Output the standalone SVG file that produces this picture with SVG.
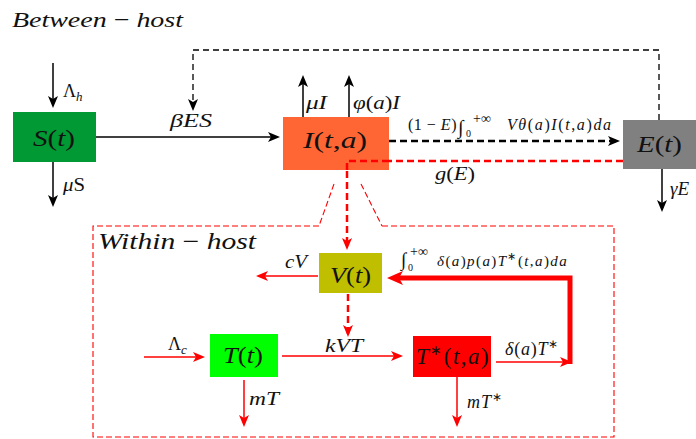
<svg xmlns="http://www.w3.org/2000/svg" width="696" height="439" viewBox="0 0 696 439">
<defs>
<style>
.m{font-family:"Liberation Serif","Times New Roman",serif;font-style:italic;fill:#111}
.u{font-style:normal}
.n{font-size:23px}
.e{font-size:18px}
.k{fill:none;stroke:#000;stroke-width:1.5}
.r{fill:none;stroke:#ff0000;stroke-width:1.5}
.kd{fill:none;stroke:#000;stroke-width:2.5;stroke-dasharray:7 4}
.rd{fill:none;stroke:#ff0000;stroke-width:2.5;stroke-dasharray:7 4}
</style>
<marker id="ak" viewBox="0 0 12 10" refX="9" refY="5" markerWidth="12" markerHeight="10" markerUnits="userSpaceOnUse" orient="auto"><path d="M0,0 L12,5 L0,10 L3,5 Z" fill="#000"/></marker>
<marker id="ar" viewBox="0 0 12 10" refX="9" refY="5" markerWidth="12" markerHeight="10" markerUnits="userSpaceOnUse" orient="auto"><path d="M0,0 L12,5 L0,10 L3,5 Z" fill="#ff0000"/></marker>
<marker id="arb" viewBox="0 0 16 14" refX="8" refY="7" markerWidth="16" markerHeight="14" markerUnits="userSpaceOnUse" orient="auto"><path d="M0,0 L16,7 L0,14 L4,7 Z" fill="#ff0000"/></marker>
</defs>
<rect width="696" height="439" fill="#fff"/>

<text class="m" style="font-size:22px" x="12" y="27" textLength="171" lengthAdjust="spacingAndGlyphs">Between <tspan class="u">−</tspan> host</text>

<g id="within-host">
<path d="M319,226 H93 V437 H614 V226 H382 M334,184 L319,226 M361,184 L382,226" fill="none" stroke="#ff0000" stroke-width="1.1" stroke-dasharray="6 3"/>
<text class="m" style="font-size:23px" x="98" y="249" textLength="158" lengthAdjust="spacingAndGlyphs">Within <tspan class="u">−</tspan> host</text>
</g>

<g id="connectors">
<line class="k" x1="53" y1="63" x2="53" y2="105" marker-end="url(#ak)"/>
<line class="k" x1="53" y1="162" x2="53" y2="204" marker-end="url(#ak)"/>
<line class="k" x1="96" y1="137" x2="277" y2="137" marker-end="url(#ak)"/>
<line class="k" x1="303" y1="117" x2="303" y2="78" marker-end="url(#ak)"/>
<line class="k" x1="349" y1="117" x2="349" y2="78" marker-end="url(#ak)"/>
<line class="k" x1="662" y1="169" x2="662" y2="209" marker-end="url(#ak)"/>
<path d="M659,120 V50 H193 V108" fill="none" stroke="#000" stroke-width="1.3" stroke-dasharray="6 4" marker-end="url(#ak)"/>
<line class="kd" x1="389" y1="141" x2="617" y2="141" marker-end="url(#ak)"/>
<path class="rd" d="M623,161 H347 V247" marker-end="url(#ar)"/>
<line class="rd" x1="348" y1="294" x2="348" y2="334" marker-end="url(#ar)"/>
<line class="r" x1="318" y1="276" x2="259" y2="276" marker-end="url(#ar)"/>
<line class="r" x1="144" y1="357" x2="202" y2="357" marker-end="url(#ar)"/>
<line class="r" x1="282" y1="356" x2="400" y2="356" marker-end="url(#ar)"/>
<line class="r" x1="244" y1="380" x2="244" y2="424" marker-end="url(#ar)"/>
<line class="r" x1="457" y1="377" x2="457" y2="424" marker-end="url(#ar)"/>
<line class="r" x1="496" y1="362" x2="569" y2="362" marker-end="url(#ar)"/>
<path d="M570,364 V278 H395" fill="none" stroke="#ff0000" stroke-width="5" marker-end="url(#arb)"/>

<text class="m e" x="63" y="97"><tspan class="u">Λ</tspan><tspan style="font-size:13px" dy="4">h</tspan></text>
<text class="m e" x="63" y="191" textLength="22" lengthAdjust="spacingAndGlyphs">μ<tspan class="u">S</tspan></text>
<text class="m e" x="170" y="127" textLength="42" lengthAdjust="spacingAndGlyphs">βES</text>
<text class="m e" x="306" y="109" textLength="21" lengthAdjust="spacingAndGlyphs">μI</text>
<text class="m e" x="353" y="109" textLength="47" lengthAdjust="spacingAndGlyphs">φ<tspan class="u">(</tspan>a<tspan class="u">)</tspan>I</text>
<text class="m" style="font-size:16px"><tspan x="408" y="130" style="letter-spacing:0.5px"><tspan class="u">(1 − </tspan>E<tspan class="u">)</tspan></tspan><tspan class="u" x="458" y="134" style="font-size:20px">∫</tspan><tspan class="u" x="466" y="137" style="font-size:10px">0</tspan><tspan class="u" x="473" y="123" style="font-size:14px">+∞</tspan><tspan x="507" y="130" style="letter-spacing:1.6px">Vθ<tspan class="u">(</tspan>a<tspan class="u">)</tspan>I<tspan class="u">(</tspan>t<tspan class="u">,</tspan>a<tspan class="u">)</tspan>da</tspan></text>
<text class="m e" x="435" y="180" textLength="40" lengthAdjust="spacingAndGlyphs">g<tspan class="u">(</tspan>E<tspan class="u">)</tspan></text>
<text class="m" style="font-size:19px" x="670" y="195">γE</text>
<text class="m e" x="285" y="268" textLength="22" lengthAdjust="spacingAndGlyphs">cV</text>
<text class="m" style="font-size:15px"><tspan class="u" x="401" y="266" style="font-size:19px">∫</tspan><tspan class="u" x="408" y="271" style="font-size:10px">0</tspan><tspan class="u" x="410" y="256" style="font-size:14px">+∞</tspan><tspan x="437" y="266" style="letter-spacing:1.4px">δ<tspan class="u">(</tspan>a<tspan class="u">)</tspan>p<tspan class="u">(</tspan>a<tspan class="u">)</tspan>T<tspan class="u" dy="-6" style="font-size:11px">∗</tspan><tspan class="u" dy="6">(</tspan>t<tspan class="u">,</tspan>a<tspan class="u">)</tspan>da</tspan></text>
<text class="m e" x="168" y="350"><tspan class="u">Λ</tspan><tspan style="font-size:13px" dy="4">c</tspan></text>
<text class="m e" x="325" y="352" textLength="38" lengthAdjust="spacingAndGlyphs">kVT</text>
<text class="m e" x="505" y="355" style="letter-spacing:0.8px">δ<tspan class="u">(</tspan>a<tspan class="u">)</tspan>T<tspan class="u" dy="-7" style="font-size:12px">∗</tspan></text>
<text class="m e" x="249" y="405" textLength="30" lengthAdjust="spacingAndGlyphs">mT</text>
<text class="m e" x="467" y="408" style="letter-spacing:1px">mT<tspan class="u" dy="-7" style="font-size:12px">∗</tspan></text>
</g>

<g id="S">
<rect x="13" y="112" width="83" height="50" fill="#009933"/>
<text class="m n" x="33" y="146" textLength="42" lengthAdjust="spacingAndGlyphs">S<tspan class="u">(</tspan>t<tspan class="u">)</tspan></text>
</g>
<g id="I">
<rect x="283" y="117" width="106" height="53" fill="#ff6633"/>
<text class="m n" x="303" y="148" textLength="64" lengthAdjust="spacingAndGlyphs">I<tspan class="u">(</tspan>t<tspan class="u">,</tspan>a<tspan class="u">)</tspan></text>
</g>
<path class="rd" d="M389,161 H347 V172"/>
<g id="E">
<rect x="623" y="120" width="80" height="49" fill="#808080"/>
<text class="m n" x="637" y="152" textLength="45" lengthAdjust="spacingAndGlyphs">E<tspan class="u">(</tspan>t<tspan class="u">)</tspan></text>
</g>
<g id="V">
<rect x="319" y="253" width="63" height="40" fill="#bfbf00"/>
<text class="m n" x="330" y="283" textLength="41" lengthAdjust="spacingAndGlyphs">V<tspan class="u">(</tspan>t<tspan class="u">)</tspan></text>
</g>
<g id="T">
<rect x="210" y="334" width="68" height="43" fill="#00ff00"/>
<text class="m n" x="223" y="363" textLength="40" lengthAdjust="spacingAndGlyphs">T<tspan class="u">(</tspan>t<tspan class="u">)</tspan></text>
</g>
<g id="Tstar">
<rect x="413" y="336" width="78" height="41" fill="#ff0000"/>
<text class="m n" x="416" y="364" style="letter-spacing:1.5px">T<tspan class="u" dy="-9" style="font-size:14px">∗</tspan><tspan class="u" dy="9">(</tspan>t<tspan class="u">,</tspan>a<tspan class="u">)</tspan></text>
</g>
</svg>
